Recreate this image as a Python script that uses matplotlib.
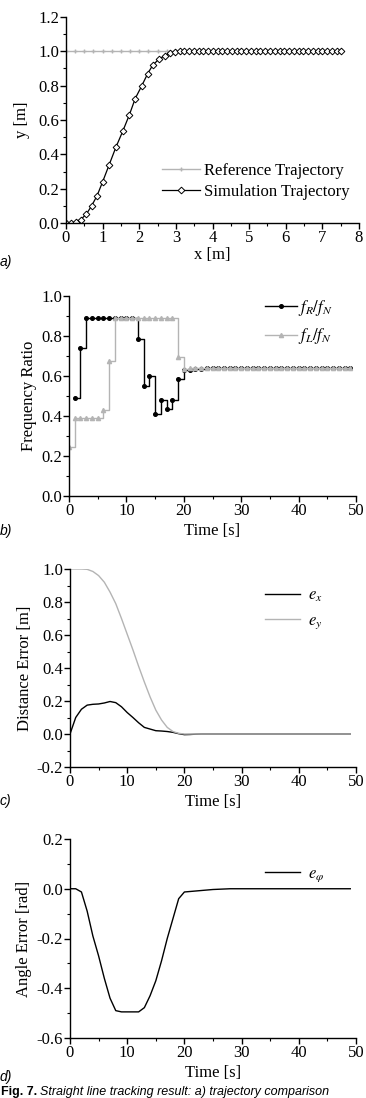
import matplotlib
matplotlib.use('Agg')
import matplotlib.pyplot as plt
from matplotlib.ticker import MultipleLocator

plt.rcParams['font.family'] = 'Liberation Serif'
plt.rcParams['mathtext.fontset'] = 'stix'
plt.rcParams['font.size'] = 12

GRAY = '#b4b4b4'

# a) trajectory comparison
ref_x = [0.0, 0.25, 0.5, 0.75, 1.0, 1.25, 1.5, 1.75, 2.0, 2.25, 2.5, 2.75, 3.0, 3.25, 3.5, 3.75,
         4.0, 4.25, 4.5, 4.75, 5.0, 5.25, 5.5, 5.75, 6.0, 6.25, 6.5, 6.75, 7.0, 7.25, 7.5]
ref_y = [1.0, 1.0, 1.0, 1.0, 1.0, 1.0, 1.0, 1.0, 1.0, 1.0, 1.0, 1.0, 1.0, 1.0, 1.0, 1.0,
         1.0, 1.0, 1.0, 1.0, 1.0, 1.0, 1.0, 1.0, 1.0, 1.0, 1.0, 1.0, 1.0, 1.0, 1.0]
sim_x = [0.0, 0.14, 0.26, 0.40, 0.55, 0.70, 0.85, 1.00, 1.18, 1.36, 1.55, 1.73, 1.89, 2.07,
         2.23, 2.37, 2.54, 2.70, 2.84, 2.97, 3.10, 3.23, 3.36, 3.49, 3.62, 3.75, 3.88, 4.01,
         4.14, 4.27, 4.40, 4.53, 4.66, 4.79, 4.92, 5.05, 5.18, 5.31, 5.44, 5.57, 5.70, 5.83,
         5.96, 6.09, 6.22, 6.35, 6.48, 6.61, 6.74, 6.87, 7.00, 7.13, 7.26, 7.39, 7.52]
sim_y = [0.0, 0.0, 0.005, 0.02, 0.05, 0.10, 0.16, 0.24, 0.34, 0.44, 0.535, 0.63, 0.725, 0.80,
         0.87, 0.92, 0.955, 0.975, 0.99, 0.995, 1.0, 1.0, 1.0, 1.0, 1.0, 1.0, 1.0, 1.0,
         1.0, 1.0, 1.0, 1.0, 1.0, 1.0, 1.0, 1.0, 1.0, 1.0, 1.0, 1.0, 1.0, 1.0,
         1.0, 1.0, 1.0, 1.0, 1.0, 1.0, 1.0, 1.0, 1.0, 1.0, 1.0, 1.0, 1.0]

# time base (1 s sampling)
time = [0, 1, 2, 3, 4, 5, 6, 7, 8, 9, 10, 11, 12, 13, 14, 15, 16, 17, 18, 19, 20, 21, 22, 23, 24,
        25, 26, 27, 28, 29, 30, 31, 32, 33, 34, 35, 36, 37, 38, 39, 40, 41, 42, 43, 44, 45, 46,
        47, 48, 49]

# b) frequency ratios
fR = [0.49, 0.74, 0.89, 0.89, 0.89, 0.89, 0.89, 0.887, 0.887, 0.887,
      0.887, 0.785, 0.55, 0.60, 0.41, 0.48, 0.435, 0.48, 0.585, 0.63,
      0.63, 0.633, 0.635, 0.64, 0.64, 0.64, 0.64, 0.64, 0.64, 0.64,
      0.64, 0.64, 0.64, 0.64, 0.64, 0.64, 0.64, 0.64, 0.64, 0.64,
      0.64, 0.64, 0.64, 0.64, 0.64, 0.64, 0.64, 0.64, 0.64]
fL = [0.245, 0.39, 0.39, 0.39, 0.39, 0.39, 0.43, 0.675, 0.887, 0.887,
      0.887, 0.887, 0.887, 0.887, 0.887, 0.887, 0.887, 0.887, 0.887, 0.695,
      0.635, 0.64, 0.64, 0.64, 0.64, 0.64, 0.64, 0.64, 0.64, 0.64,
      0.64, 0.64, 0.64, 0.64, 0.64, 0.64, 0.64, 0.64, 0.64, 0.64,
      0.64, 0.64, 0.64, 0.64, 0.64, 0.64, 0.64, 0.64, 0.64, 0.64]

# c) distance errors
ex = [0.0, 0.10, 0.15, 0.175, 0.18, 0.182, 0.188, 0.197, 0.19, 0.165,
      0.13, 0.10, 0.068, 0.04, 0.03, 0.02, 0.018, 0.015, 0.01, 0.002,
      -0.004, -0.003, -0.001, 0.0, 0.0, 0.0, 0.0, 0.0, 0.0, 0.0,
      0.0, 0.0, 0.0, 0.0, 0.0, 0.0, 0.0, 0.0, 0.0, 0.0,
      0.0, 0.0, 0.0, 0.0, 0.0, 0.0, 0.0, 0.0, 0.0, 0.0]
ey = [1.0, 1.0, 1.0, 0.998, 0.985, 0.96, 0.92, 0.86, 0.79, 0.70,
      0.605, 0.51, 0.41, 0.315, 0.225, 0.145, 0.085, 0.04, 0.015, 0.004,
      0.0, 0.0, 0.0, 0.0, 0.0, 0.0, 0.0, 0.0, 0.0, 0.0,
      0.0, 0.0, 0.0, 0.0, 0.0, 0.0, 0.0, 0.0, 0.0, 0.0,
      0.0, 0.0, 0.0, 0.0, 0.0, 0.0, 0.0, 0.0, 0.0, 0.0]

# d) angle error
ephi = [0.0, 0.0, -0.013, -0.09, -0.19, -0.27, -0.36, -0.44, -0.49, -0.495,
        -0.495, -0.495, -0.495, -0.478, -0.43, -0.37, -0.29, -0.20, -0.12, -0.04,
        -0.013, -0.011, -0.009, -0.007, -0.005, -0.003, -0.002, -0.001, 0.0, 0.0,
        0.0, 0.0, 0.0, 0.0, 0.0, 0.0, 0.0, 0.0, 0.0, 0.0,
        0.0, 0.0, 0.0, 0.0, 0.0, 0.0, 0.0, 0.0, 0.0, 0.0]

W, H = 366, 1098
fig = plt.figure(figsize=(W / 100, H / 100), dpi=100)


def make_axes(left, right, top, bottom):
    # pixel box -> figure fraction
    return fig.add_axes([left / W, 1 - bottom / H, (right - left) / W, (bottom - top) / H])


def style(ax, xmaj, xmin, ymaj, ymin):
    for s in ['top', 'right']:
        ax.spines[s].set_visible(False)
    for s in ['left', 'bottom']:
        ax.spines[s].set_linewidth(1.0)
    ax.xaxis.set_major_locator(MultipleLocator(xmaj))
    ax.xaxis.set_minor_locator(MultipleLocator(xmin))
    ax.yaxis.set_major_locator(MultipleLocator(ymaj))
    ax.yaxis.set_minor_locator(MultipleLocator(ymin))
    ax.tick_params(which='major', direction='out', length=4, width=1, labelsize=12, pad=1)
    ax.tick_params(which='minor', direction='out', length=2, width=0.8)
    ax.yaxis.set_major_formatter(plt.FormatStrFormatter('%.1f'))
    ax.xaxis.set_major_formatter(plt.FormatStrFormatter('%d'))


def panel_label(txt, y):
    fig.text(0.0, 1 - y / H, txt, ha='left', va='center', fontsize=10,
             family='Liberation Sans', style='italic')


# ---- a)
ax = make_axes(66, 359, 17, 223)
ax.plot(ref_x, ref_y, color=GRAY, lw=1, marker='+', ms=3, label='Reference Trajectory')
ax.plot(sim_x, sim_y, color='black', lw=0.9, marker='D', ms=3.4, mfc='white', mec='black',
        mew=0.7, label='Simulation Trajectory')
ax.set_xlim(0, 8)
ax.set_ylim(0, 1.2)
style(ax, 1, 0.5, 0.2, 0.1)
ax.set_xlabel('x [m]', labelpad=1)
ax.set_ylabel('y [m]', labelpad=6)
ax.legend(loc='upper left', bbox_to_anchor=((162 - 66) / 293, (223 - 163) / 206), frameon=False,
          borderpad=0, borderaxespad=0, handlelength=2.3, handletextpad=0.2, labelspacing=0.3)
panel_label('a)', 262)

# ---- b)
ax = make_axes(69, 356, 295.7, 496)
ax.plot(time[1:], fR, color='black', lw=1, drawstyle='steps-post', marker='o', ms=2.6,
        label=r'$f_R/f_N$')
ax.plot(time, fL, color=GRAY, lw=1, drawstyle='steps-post', marker='^', ms=3,
        label=r'$f_L/f_N$')
ax.set_xlim(0, 50)
ax.set_ylim(0, 1.0)
style(ax, 10, 5, 0.2, 0.1)
ax.set_xlabel('Time [s]', labelpad=3)
ax.set_ylabel('Frequency Ratio', labelpad=3)
ax.legend(loc='upper left', bbox_to_anchor=((265 - 69) / 287, (496 - 298) / 200.3), frameon=False,
          borderpad=0, borderaxespad=0, handlelength=1.9, handletextpad=0.1, labelspacing=0.5)
panel_label('b)', 531)

# ---- c)
ax = make_axes(70, 356, 569, 767)
ax.plot(time, ex, color='black', lw=1, label=r'$e_x$')
ax.plot(time, ey, color=GRAY, lw=1, label=r'$e_y$')
ax.set_xlim(0, 50)
ax.set_ylim(-0.2, 1.0)
style(ax, 10, 5, 0.2, 0.1)
ax.set_xlabel('Time [s]', labelpad=3)
ax.set_ylabel('Distance Error [m]', labelpad=3)
ax.legend(loc='upper left', bbox_to_anchor=((265 - 70) / 286, (767 - 588) / 198), frameon=False,
          borderpad=0, borderaxespad=0, handlelength=2.1, handletextpad=0.5, labelspacing=0.5)
panel_label('c)', 801)

# ---- d)
ax = make_axes(70, 356, 839, 1038)
ax.plot(time, ephi, color='black', lw=1, label=r'$e_\varphi$')
ax.set_xlim(0, 50)
ax.set_ylim(-0.6, 0.2)
style(ax, 10, 5, 0.2, 0.1)
ax.set_xlabel('Time [s]', labelpad=3)
ax.set_ylabel('Angle Error [rad]', labelpad=3)
ax.legend(loc='upper left', bbox_to_anchor=((265 - 70) / 286, (1038 - 866) / 199), frameon=False,
          borderpad=0, borderaxespad=0, handlelength=2.1, handletextpad=0.5)
panel_label('d)', 1077)

# caption at the bottom edge
fig.text(1 / W, 1 - 1095 / H, 'Fig. 7.', ha='left', va='baseline', fontsize=9,
         family='Liberation Sans', weight='bold')
fig.text(40 / W, 1 - 1095 / H, 'Straight line tracking result: a) trajectory comparison',
         ha='left', va='baseline', fontsize=9, family='Liberation Sans', style='italic')

fig.savefig('out.png', dpi=100)
